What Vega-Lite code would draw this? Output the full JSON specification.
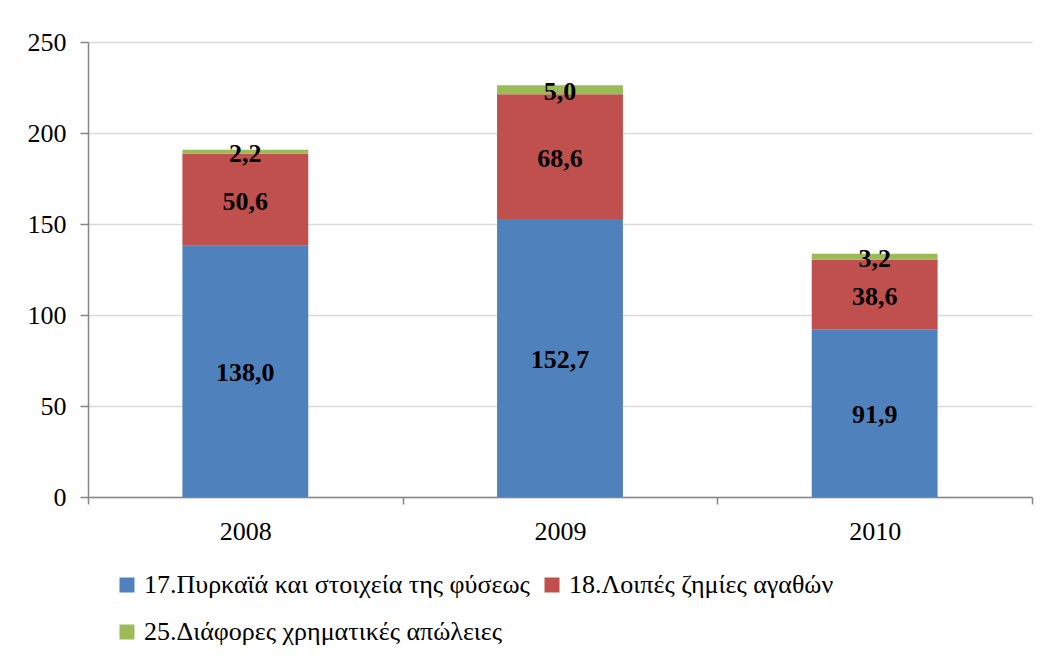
{
  "$schema": "https://vega.github.io/schema/vega-lite/v6.json",
  "autosize": {"type": "none"},
  "padding": {"left": 88, "top": 42, "right": 19, "bottom": 159},
  "width": 944,
  "height": 455,
  "background": "white",
  "config": {
    "view": {"stroke": null},
    "locale": {"number": {"decimal": ",", "thousands": ".", "grouping": [3], "currency": ["", " €"]}},
    "font": "Liberation Serif"
  },
  "data": {
    "values": [
      {"year": "2008", "series": "17.Πυρκαϊά και στοιχεία της φύσεως", "value": 138.0},
      {"year": "2008", "series": "18.Λοιπές ζημίες αγαθών", "value": 50.6},
      {"year": "2008", "series": "25.Διάφορες χρηματικές απώλειες", "value": 2.2},
      {"year": "2009", "series": "17.Πυρκαϊά και στοιχεία της φύσεως", "value": 152.7},
      {"year": "2009", "series": "18.Λοιπές ζημίες αγαθών", "value": 68.6},
      {"year": "2009", "series": "25.Διάφορες χρηματικές απώλειες", "value": 5.0},
      {"year": "2010", "series": "17.Πυρκαϊά και στοιχεία της φύσεως", "value": 91.9},
      {"year": "2010", "series": "18.Λοιπές ζημίες αγαθών", "value": 38.6},
      {"year": "2010", "series": "25.Διάφορες χρηματικές απώλειες", "value": 3.2}
    ]
  },
  "transform": [
    {"stack": "value", "groupby": ["year"], "sort": [{"field": "series", "order": "ascending"}], "as": ["v0", "v1"]},
    {"calculate": "(datum.v0 + datum.v1) / 2", "as": "mid"}
  ],
  "encoding": {
    "x": {
      "field": "year", "type": "nominal",
      "scale": {"paddingInner": 0, "paddingOuter": 0},
      "axis": {
        "title": null, "labelAngle": 0, "labelFont": "Liberation Serif", "labelFontSize": 26,
        "labelColor": "black", "labelPadding": 14, "domainColor": "#868686", "domainWidth": 1.5,
        "tickColor": "#868686", "tickWidth": 1.5, "tickSize": 7, "tickBand": "extent", "grid": false
      }
    }
  },
  "layer": [
    {
      "mark": {"type": "bar", "width": {"band": 0.4}},
      "encoding": {
        "y": {
          "field": "v0", "type": "quantitative",
          "scale": {"domain": [0, 250], "nice": false, "zero": true},
          "axis": {
            "title": null, "values": [0, 50, 100, 150, 200, 250], "labelFont": "Liberation Serif",
            "labelFontSize": 26, "labelColor": "black", "labelPadding": 14,
            "domainColor": "#868686", "domainWidth": 1.5, "tickColor": "#868686", "tickWidth": 1.5,
            "tickSize": 8, "grid": true, "gridColor": "#d9d9d9", "gridWidth": 1.5
          }
        },
        "y2": {"field": "v1"},
        "color": {
          "field": "series", "type": "nominal",
          "scale": {
            "domain": ["17.Πυρκαϊά και στοιχεία της φύσεως", "18.Λοιπές ζημίες αγαθών", "25.Διάφορες χρηματικές απώλειες"],
            "range": ["#4F81BD", "#C0504D", "#9BBB59"]
          },
          "legend": {
            "title": null, "orient": "none", "legendX": 26, "legendY": 530, "direction": "horizontal",
            "columns": 2, "columnPadding": 9, "rowPadding": 21, "symbolType": "square", "symbolSize": 225,
            "symbolStrokeWidth": 0, "labelFont": "Liberation Serif", "labelFontSize": 26,
            "labelColor": "black", "labelOffset": 4, "labelLimit": 700
          }
        }
      }
    },
    {
      "mark": {"type": "text", "font": "Liberation Serif", "fontSize": 26, "fontWeight": "bold", "color": "black", "baseline": "middle", "dy": 2},
      "encoding": {
        "y": {"field": "mid", "type": "quantitative"},
        "text": {"field": "value", "type": "quantitative", "format": ".1f"}
      }
    }
  ]
}
